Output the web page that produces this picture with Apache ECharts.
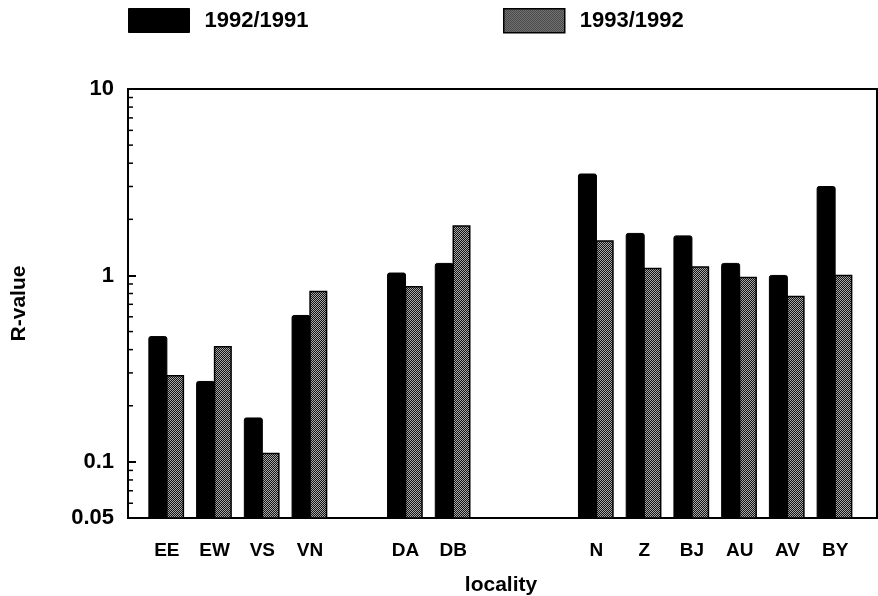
<!DOCTYPE html>
<html>
<head>
<meta charset="utf-8">
<script src="https://cdn.jsdelivr.net/npm/echarts@6/dist/echarts.min.js"></script>
<style>
html,body{margin:0;padding:0;background:#fff;}
#chart{width:878px;height:596px;}
</style>
</head>
<body>
<div id="chart"></div>
<script>
// ---- data ----
var categories = ['EE', 'EW', 'VS', 'VN', '', 'DA', 'DB', '', '', 'N', 'Z', 'BJ', 'AU', 'AV', 'BY'];
var seriesNames = ['1992/1991', '1993/1992'];
var r9291 = [0.47, 0.27, 0.172, 0.61, null, 1.03, 1.16, null, null, 3.5, 1.68, 1.63, 1.16, 1.0, 3.0];
var r9392 = [0.29, 0.415, 0.111, 0.82, null, 0.87, 1.84, null, null, 1.53, 1.09, 1.11, 0.975, 0.77, 1.0];
var yMin = 0.05, yMax = 10;
var minorTickValues = [0.06, 0.07, 0.08, 0.09, 0.2, 0.3, 0.4, 0.5, 0.6, 0.7, 0.8, 0.9, 2, 3, 4, 5, 6, 7, 8, 9];

// ---- dither pattern for grey bars ----
var pc = document.createElement('canvas');
pc.width = 2; pc.height = 2;
var pctx = pc.getContext('2d');
pctx.fillStyle = '#141414'; pctx.fillRect(0, 0, 2, 2);
pctx.fillStyle = '#a8a8a8'; pctx.fillRect(0, 0, 1, 1); pctx.fillRect(1, 1, 1, 1);
var greyPattern = { image: pc, repeat: 'repeat' };

var FONT = '"Liberation Sans", Arial, Helvetica, sans-serif';
var chart = echarts.init(document.getElementById('chart'), null, { renderer: 'canvas' });

function fmt(v) { return String(parseFloat(Number(v).toPrecision(3))); }

function toPairs(arr) {
  var out = [];
  arr.forEach(function (v, i) { if (v != null) out.push([i, v]); });
  return out;
}

// bars drawn from the axis floor (yMin) up to the value, through the axis scales
function barRenderer(side, width, style) {
  return function (params, api) {
    var cat = api.value(0), v = api.value(1);
    var top = api.coord([cat, v]);
    var base = api.coord([cat, yMin]);
    var x = side < 0 ? top[0] - width : top[0];
    return {
      type: 'rect',
      shape: { x: x, y: top[1], width: width, height: base[1] - top[1], r: style.r || 0 },
      style: { fill: style.fill, stroke: style.stroke, lineWidth: style.lineWidth }
    };
  };
}

var option = {
  backgroundColor: '#fff',
  animation: false,
  textStyle: { fontFamily: FONT, color: '#000' },
  legend: [
    { data: [seriesNames[0]], left: 128, top: 8, padding: 0, icon: 'rect', itemWidth: 61, itemHeight: 24,
      itemStyle: { color: '#000', borderColor: '#000', borderWidth: 1 },
      textStyle: { fontFamily: FONT, fontSize: 22, fontWeight: 'bold', color: '#000', padding: [3, 0, 0, 10] } },
    { data: [seriesNames[1]], left: 503, top: 8, padding: 0, icon: 'rect', itemWidth: 61, itemHeight: 24,
      itemStyle: { color: greyPattern, borderColor: '#000', borderWidth: 1.5 },
      textStyle: { fontFamily: FONT, fontSize: 22, fontWeight: 'bold', color: '#000', padding: [3, 0, 0, 10] } }
  ],
  grid: [
    { left: 128, top: 89, width: 749, height: 429, show: true, borderColor: '#000', borderWidth: 2, backgroundColor: 'transparent', containLabel: false, outerBoundsMode: 'none' },
    { left: 143, top: 89, width: 716, height: 429, show: false, containLabel: false, outerBoundsMode: 'none' }
  ],
  xAxis: [
    { gridIndex: 0, type: 'value', min: 0, max: 1, show: false },
    { gridIndex: 1, type: 'category', data: categories,
      axisLine: { show: false }, axisTick: { show: false }, splitLine: { show: false },
      axisLabel: { interval: 0, margin: 23, fontFamily: FONT, fontSize: 19, fontWeight: 'bold', color: '#000' },
      name: 'locality', nameLocation: 'middle', nameGap: 57,
      nameTextStyle: { fontFamily: FONT, fontSize: 21, fontWeight: 'bold', color: '#000' } }
  ],
  yAxis: [
    { gridIndex: 0, type: 'log', logBase: 10, min: yMin, max: yMax,
      axisLine: { show: true, lineStyle: { color: '#000', width: 2 } },
      axisTick: { show: true, inside: true, length: 8, lineStyle: { color: '#000', width: 2 } },
      splitLine: { show: false },
      axisLabel: { margin: 14, fontFamily: FONT, fontSize: 22, fontWeight: 'bold', color: '#000', formatter: fmt, showMinLabel: true, showMaxLabel: true },
      name: 'R-value', nameLocation: 'middle', nameGap: 98, nameRotate: 90,
      nameTextStyle: { fontFamily: FONT, fontSize: 21, fontWeight: 'bold', color: '#000' } },
    { gridIndex: 1, type: 'log', logBase: 10, min: yMin, max: yMax, show: false, splitLine: { show: false } }
  ],
  series: [
    { name: seriesNames[0], type: 'custom', xAxisIndex: 1, yAxisIndex: 1, data: toPairs(r9291),
      encode: { x: 0, y: 1 },
      itemStyle: { color: '#000' },
      renderItem: barRenderer(-1, 18, { fill: '#000', stroke: '#000', lineWidth: 1, r: [2, 2, 0, 0] }) },
    { name: seriesNames[1], type: 'custom', xAxisIndex: 1, yAxisIndex: 1, data: toPairs(r9392),
      encode: { x: 0, y: 1 },
      itemStyle: { color: greyPattern, borderColor: '#000', borderWidth: 1.5 },
      renderItem: barRenderer(1, 16.5, { fill: greyPattern, stroke: '#000', lineWidth: 1.5 }) },
    { type: 'custom', xAxisIndex: 0, yAxisIndex: 0, silent: true,
      data: minorTickValues.map(function (v) { return [0, v]; }),
      renderItem: function (params, api) {
        var p = api.coord([0, api.value(1)]);
        return { type: 'line', shape: { x1: p[0], y1: p[1], x2: p[0] + 5, y2: p[1] },
                 style: { stroke: '#000', lineWidth: 1.5 } };
      } }
  ]
};
chart.setOption(option);
</script>
</body>
</html>
